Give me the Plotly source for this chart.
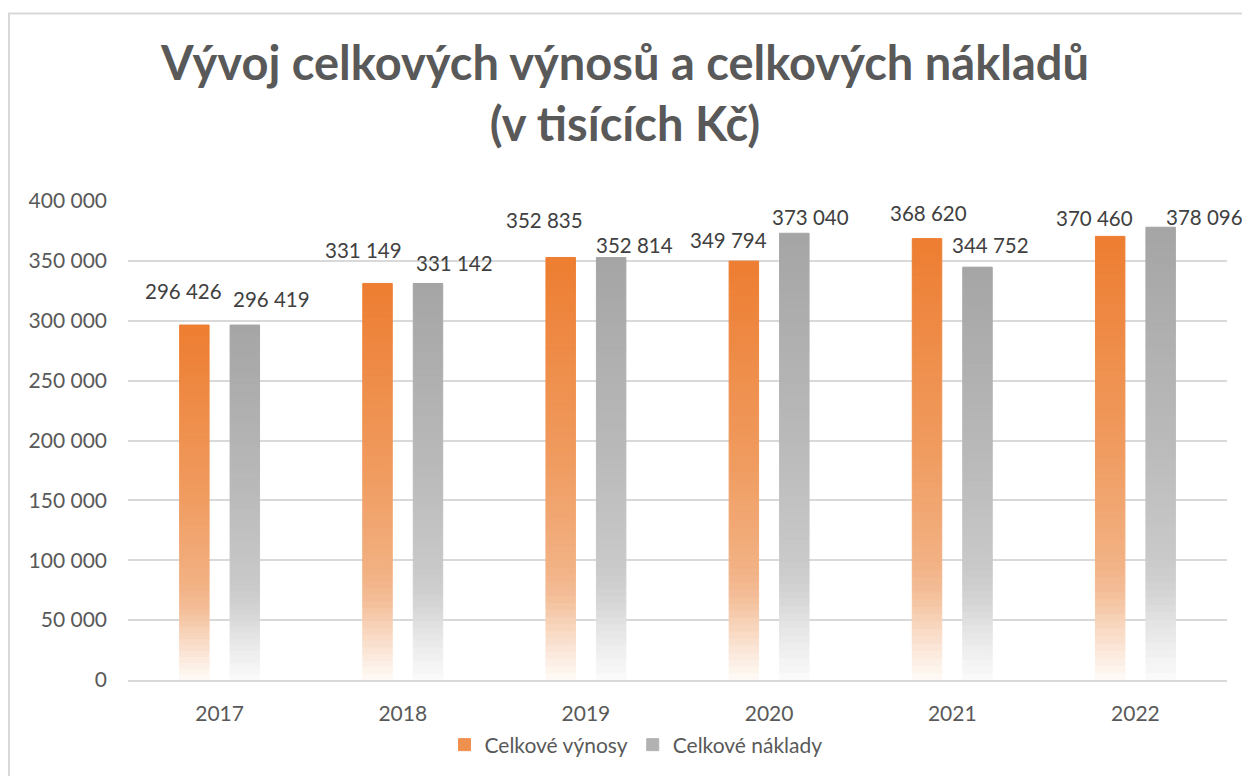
import plotly.graph_objects as go

# ---- data ----
years = ["2017", "2018", "2019", "2020", "2021", "2022"]
vynosy = [296426, 331149, 352835, 349794, 368620, 370460]
naklady = [296419, 331142, 352814, 373040, 344752, 378096]
series_names = ["Celkové výnosy", "Celkové náklady"]
y_ticks = [0, 50000, 100000, 150000, 200000, 250000, 300000, 350000, 400000]

# ---- style ----
OFF = 8  # page body margin in the browser
W, H = 1250 - 2 * OFF, 776 - OFF
ML, MT = 128 - OFF, 201 - OFF
MR = W - (1227 - OFF)
MB = H - (681 - OFF)
FONT = "Lato"
TXT = "#595959"
LBL = "#404040"
N_SEG = 60

# gradient stops: (fraction from bottom, rgb)
grad_orange = [(0.0, (254, 251, 248)), (0.1, (249, 222, 202)), (0.2, (244, 190, 152)),
               (0.27, (242, 177, 131)), (0.5, (240, 157, 98)), (1.0, (237, 125, 49))]
grad_gray = [(0.0, (251, 251, 251)), (0.1, (233, 233, 233)), (0.2, (211, 211, 211)),
             (0.27, (201, 201, 201)), (0.5, (187, 187, 187)), (1.0, (165, 165, 165))]

# label offsets in px (dx from category centre, dy above value)
lbl_dx = [[-36, -39, -41, -41, -24, -41], [52, 52, 49, 41, 38, 69]]
lbl_dy = [[34, 33, 37, 21, 26, 18], [26, 20, 13, 16, 22, 10]]


def grad(stops, f):
    for (f0, c0), (f1, c1) in zip(stops[:-1], stops[1:]):
        if f0 <= f <= f1:
            t = (f - f0) / (f1 - f0)
            c = [round(a + (b - a) * t) for a, b in zip(c0, c1)]
            return f"rgb({c[0]},{c[1]},{c[2]})"
    c = stops[-1][1]
    return f"rgb({c[0]},{c[1]},{c[2]})"


def fmt(v):
    return f"{v:,}".replace(",", " ")


fig = go.Figure()
for s_idx, (vals, stops, grp) in enumerate([(vynosy, grad_orange, "v"), (naklady, grad_gray, "n")]):
    legend_k = int(N_SEG * 0.7)
    for k in range(N_SEG):
        f = (k + 0.5) / N_SEG
        col = grad(stops, f)
        fig.add_trace(go.Bar(
            x=years,
            y=[v / N_SEG for v in vals],
            base=[v * k / N_SEG for v in vals],
            offsetgroup=grp,
            marker=dict(color=col, line=dict(width=1, color=col)),
            name=series_names[s_idx],
            legendgroup=grp,
            showlegend=(k == legend_k),
            legendrank=s_idx + 1,
            hoverinfo="skip",
        ))

annotations = []
for s_idx, vals in enumerate([vynosy, naklady]):
    for i, v in enumerate(vals):
        annotations.append(dict(
            x=i, y=v, xref="x", yref="y",
            text=fmt(v), showarrow=False,
            xshift=lbl_dx[s_idx][i], yshift=lbl_dy[s_idx][i],
            xanchor="center", yanchor="middle",
            font=dict(family=FONT, size=20.5, color=LBL),
        ))

pw = W - ML - MR
ph = H - MT - MB
def px_to_paper_x(px):
    return (px - OFF - ML) / pw
def px_to_paper_y(py):
    return (H - MB - (py - OFF)) / ph

fig.update_layout(
    width=W, height=H,
    margin=dict(l=ML, r=MR, t=MT, b=MB),
    paper_bgcolor="white", plot_bgcolor="white",
    barmode="group", bargap=0.449, bargroupgap=0.416,
    title=dict(
        text="<b>Vývoj celkových výnosů a celkových nákladů<br>(v tisících Kč)</b>",
        x=0.5, xanchor="center", y=1 - (80 - OFF) / H, yanchor="middle",
        font=dict(family=FONT, size=47, color=TXT),
    ),
    xaxis=dict(
        type="category", categoryorder="array", categoryarray=years,
        range=[-0.5, len(years) - 0.5],
        showgrid=False, showline=True, linecolor="#D9D9D9", linewidth=2,
        ticks="", tickfont=dict(family=FONT, size=21, color=TXT),
        ticklabelstandoff=14,
    ),
    yaxis=dict(
        range=[0, 400000], tickvals=y_ticks,
        ticktext=[fmt(t) for t in y_ticks],
        showgrid=True, gridcolor="#D9D9D9", gridwidth=1.5,
        zeroline=False, showline=False, ticks="",
        tickfont=dict(family=FONT, size=21, color=TXT),
        ticklabelstandoff=20,
    ),
    legend=dict(
        orientation="h", x=px_to_paper_x(636), xanchor="center",
        y=px_to_paper_y(745), yanchor="middle",
        font=dict(family=FONT, size=21, color=TXT), traceorder="normal",
        itemwidth=30,
    ),
    annotations=annotations,
    shapes=[dict(
        type="rect", xref="paper", yref="paper",
        x0=px_to_paper_x(9), x1=px_to_paper_x(1270),
        y0=px_to_paper_y(800), y1=px_to_paper_y(13),
        line=dict(color="#D9D9D9", width=2), fillcolor="rgba(0,0,0,0)", layer="below",
    )],
    showlegend=True,
)

fig.write_html("out.html")
